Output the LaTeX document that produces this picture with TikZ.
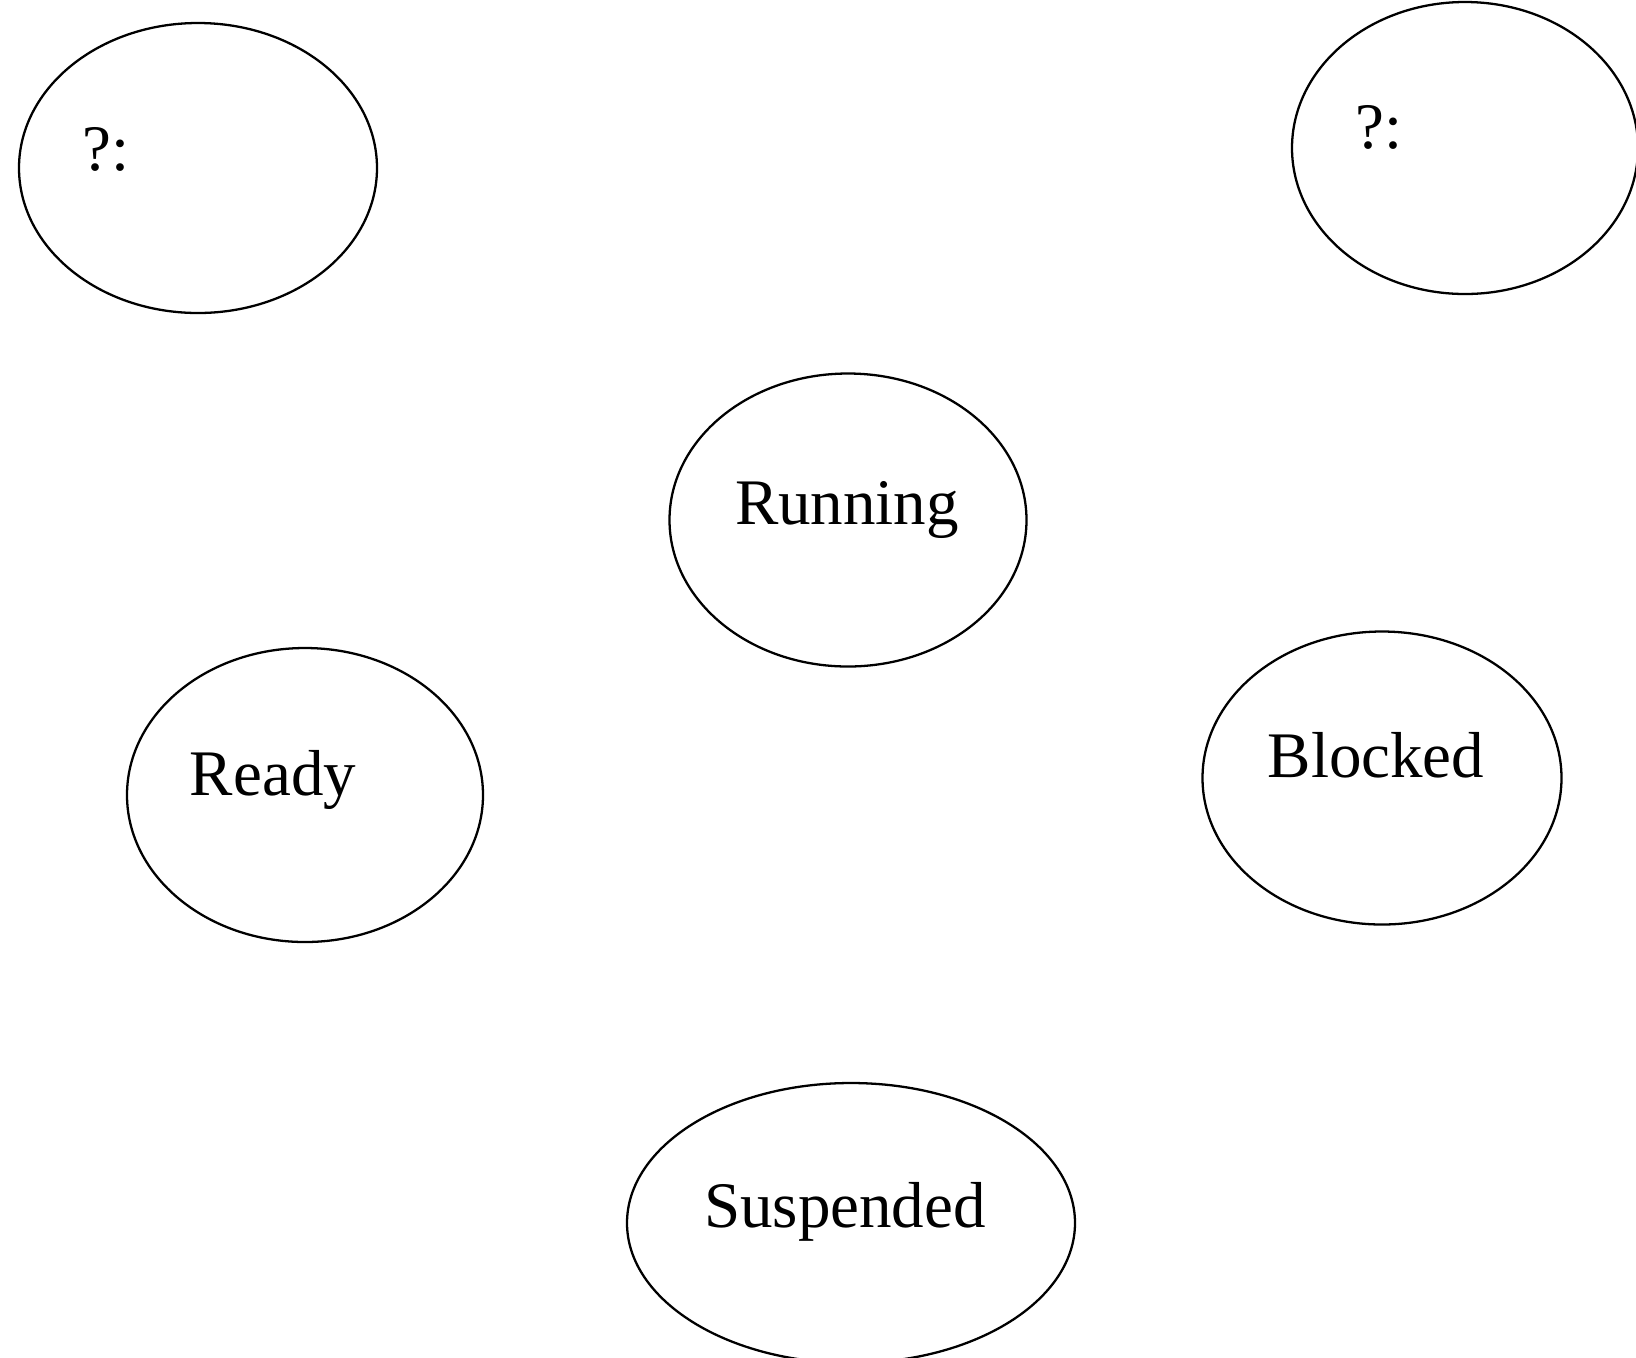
\documentclass[tikz,border=0pt]{standalone}
\usepackage{fontspec}
\setmainfont{Liberation Serif}
\usetikzlibrary{shapes.geometric}

\begin{document}
\begin{tikzpicture}[
    x=0.02cm, y=-0.02cm,
    stateoval/.style={draw, ellipse, line width=1.3pt, inner sep=0pt},
    statetext/.style={anchor=base, inner sep=0pt, font=\fontsize{37}{44}\selectfont}
]

\def\px{0.02cm}

\useasboundingbox (0,0) rectangle (1636,1357);

% the states
\node[stateoval, minimum width=358*\px, minimum height=290*\px] (unknownA) at (198,168) {};
\node[stateoval, minimum width=346*\px, minimum height=292*\px] (unknownB) at (1465,148) {};
\node[stateoval, minimum width=357*\px, minimum height=293*\px] (running) at (848,520) {};
\node[stateoval, minimum width=356*\px, minimum height=294*\px] (ready) at (305,795) {};
\node[stateoval, minimum width=359*\px, minimum height=293*\px] (blocked) at (1382,778) {};
\node[stateoval, minimum width=448*\px, minimum height=280*\px] (suspended) at (851,1223) {};

% the labels
\node[statetext, anchor=base west] (unknownAtxt) at (82,170) {?:};
\node[statetext, anchor=base west] (unknownBtxt) at (1355,148) {?:};
\node[statetext] (runningtxt) at (847,524) {Running};
\node[statetext] (readytxt) at (273,795) {Ready};
\node[statetext] (blockedtxt) at (1376,777) {Blocked};
\node[statetext] (suspendedtxt) at (845,1227) {Suspended};

\end{tikzpicture}
\end{document}
